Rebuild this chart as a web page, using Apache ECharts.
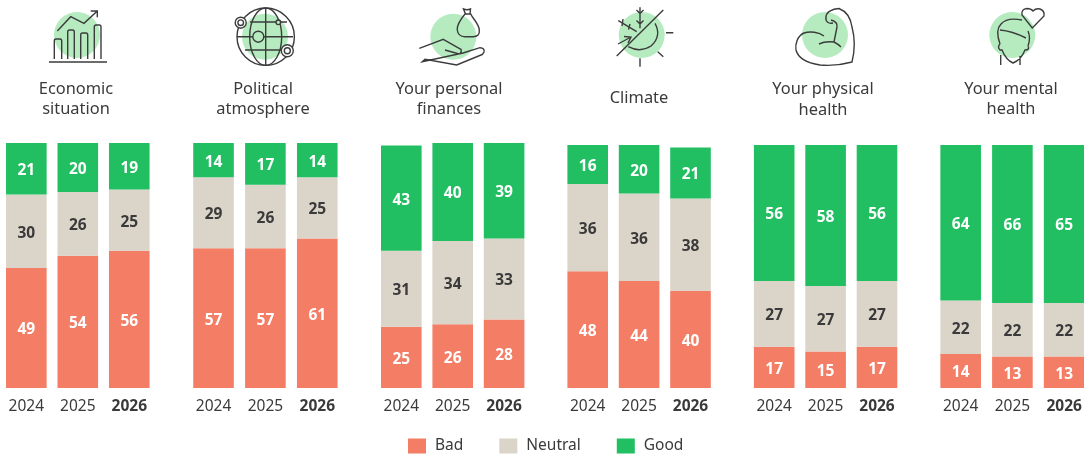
<!DOCTYPE html>
<html>
<head>
<meta charset="utf-8">
<style>html,body{margin:0;padding:0;background:#fff}#chart{width:1084px;height:457px}</style>
<script src="https://cdn.jsdelivr.net/npm/echarts@6/dist/echarts.min.js"></script>
</head>
<body>
<div id="chart"></div>
<script>
const years = ['2024', '2025', '2026'];
const panelTitles = ['Economic\nsituation', 'Political\natmosphere', 'Your personal\nfinances', 'Climate', 'Your physical\nhealth', 'Your mental\nhealth'];
const bad = [[49, 54, 56], [57, 57, 61], [25, 26, 28], [48, 44, 40], [17, 15, 17], [14, 13, 13]];
const neutral = [[30, 26, 25], [29, 26, 25], [31, 34, 33], [36, 36, 38], [27, 27, 27], [22, 22, 22]];
const good = [[21, 20, 19], [14, 17, 14], [43, 40, 39], [16, 20, 21], [56, 58, 56], [64, 66, 65]];

const COLORS = { bad: '#F37D65', neutral: '#DBD4C8', good: '#21BF61', mint: '#B5EBBF', ink: '#3A3A3A' };
const FONT = '"Noto Sans", "Open Sans", sans-serif';

// Panel placement: left edge, width and the pixel height of a full 100% stack
const panelLefts = [0.6, 187.6, 375.6, 562, 748.5, 934.8];
const panelWidths = [154.4, 155.6, 154.2, 154.2, 154.2, 155.2];
const panelTops = [143, 143, 143, 145, 145, 145];
const panelHeights = [245, 245, 245, 243, 243, 243];
const titleCenters = [76, 263, 449, 639, 823, 1011];
const titleTops = [99.5, 99.5, 99.5, 98, 100, 99.5];

const grids = [], xAxes = [], yAxes = [], series = [];
panelLefts.forEach((left, p) => {
  grids.push({ left, width: panelWidths[p], top: panelTops[p], height: panelHeights[p], outerBoundsMode: 'none' });
  xAxes.push({
    gridIndex: p, type: 'category', data: years,
    axisLine: { show: false }, axisTick: { show: false },
    axisLabel: {
      interval: 0, hideOverlap: false,
      margin: 11, color: COLORS.ink, fontFamily: FONT, fontSize: 15.5,
      formatter: v => v === '2026' ? '{b|' + v + '}' : v,
      rich: { b: { fontWeight: 700, color: COLORS.ink, fontFamily: FONT, fontSize: 15.5 } }
    }
  });
  yAxes.push({ gridIndex: p, type: 'value', min: 0, max: 100, show: false });
  [['Bad', bad, COLORS.bad, '#fff'], ['Neutral', neutral, COLORS.neutral, COLORS.ink], ['Good', good, COLORS.good, '#fff']]
    .forEach(([name, values, color, labelColor]) => {
      series.push({
        name, type: 'bar', stack: 'p' + p, xAxisIndex: p, yAxisIndex: p,
        data: values[p], barWidth: 40.6,
        itemStyle: { color },
        label: { show: true, position: 'inside', offset: [0, 2], color: labelColor, fontFamily: FONT, fontWeight: 700, fontSize: 15.5 }
      });
    });
});

// Line-art pictograms above each panel, each sitting on a mint disc
const iconPaths = {
  chart: 'M54.3 59V41Q54.3 39 56 39H60Q61.7 39 61.7 41V59M67.7 59V32Q67.7 30 69.5 30H72.5Q74.3 30 74.3 32V59M80.7 59V35Q80.7 33 82.5 33H86Q87.7 33 87.7 35V59M94.3 59V27Q94.3 25 96 25H99.3Q101 25 101 27V59M49 62H107M57.3 31L70.7 16.7L84 23.3L97.3 11M90.7 11H97.3V17.3',
  globe: 'M265.7 8A16 28.7 0 0 0 265.7 65.4A16 28.7 0 0 0 265.7 8ZM265.7 8V65.4M250 22H287M237 36.7H293M245 50H283',
  money: 'M465 14C460 20 456.7 25 457.3 30Q458 36.7 465 36.7H473Q480 36.7 479.3 30C479 24 473 19 470.7 14ZM465.5 14L463.5 9Q467 10.5 470.5 9L470 14M419.3 48.3L443.3 39.3Q455 46 461 49.3Q462 53 459 54L445 50M463 53L480 47.7Q485 48 484 52Q483 54.5 481 55L456.7 65L425 59.3L422.3 61.7Z',
  climate: 'M616.7 56L663.3 10M655 23.3Q662 36 651 46Q640 53 628.3 46.7M666 32.7H673.3M657.7 51.7L663.3 56.7M640 58.3V66.7M640 7.3V28.3M636.5 10L640 13.5L643.5 10M636.5 20.5L640 24L643.5 20.5M618.3 20.7L636.7 31.7M623 19L622 26M630 24L628.5 29.5M618 44L631 37M624 36.5L631 37L628 43',
  muscle: 'M824 36C819 32 810 31 804 33C797 36 795 45 796 50C798 58 807 63 820 65C832 66 845 64 852 62C855 50 855 38 852 27C851 20 848 12 839 8.5C832 9 826 12 826 17C825 22 829 24 833 23M831 20Q838 22 837 27L834 42M819 44Q825 41 834 42Q838 44 841 47',
  mind: 'M1032.3 28L1022 15Q1021 9 1027 8.5Q1031 8.5 1033 11Q1036 8 1040 9Q1045 11 1044 16ZM1000 44Q995 30 1001 24Q1007 17 1022 20M1028 46Q1031 38 1028 31M1000 44Q997 47 1000 50L1002 50Q1006 60 1013 63Q1021 60 1025 50Q1030 50 1028 46M1000.7 55V65M1020 56V65M1000 30Q1012 31 1026 38'
};
Object.keys(iconPaths).forEach(key => {
  echarts.graphic.registerShape(key, echarts.graphic.extendPath(iconPaths[key], {}));
});

const stroke = { stroke: '#3c3c3c', fill: null, lineWidth: 1.4 };
const disc = (cx, cy, r) => ({ type: 'circle', shape: { cx, cy, r }, style: { fill: COLORS.mint } });
const icon = key => ({ type: key, style: stroke, silent: true });
const ring = (cx, cy, r, fill) => ({ type: 'circle', shape: { cx, cy, r }, style: { stroke: '#3c3c3c', lineWidth: 1.4, fill: fill || 'transparent' } });
const titleGraphics = panelTitles.map((t, i) => ({
  type: 'text', x: titleCenters[i], y: titleTops[i],
  style: { text: t, align: 'center', verticalAlign: 'middle', fill: COLORS.ink, font: '16.4px ' + FONT, lineHeight: 20.5 }
}));

const chart = echarts.init(document.getElementById('chart'), null, { renderer: 'canvas' });
chart.setOption({
  animation: false,
  grid: grids, xAxis: xAxes, yAxis: yAxes, series,
  legend: {
    data: ['Bad', 'Neutral', 'Good'], left: 403, top: 433, itemWidth: 18, itemHeight: 15, itemGap: 36,
    selectedMode: false, icon: 'rect',
    textStyle: { color: COLORS.ink, fontFamily: FONT, fontSize: 15.5, padding: [3, 0, 0, 4] }
  },
  graphic: titleGraphics.concat([
    disc(77, 35, 23), disc(265, 36.7, 23), disc(453.3, 36.7, 23), disc(641.7, 35, 23), disc(825, 35, 23), disc(1012.3, 35, 23),
    icon('chart'),
    ring(265.7, 36.7, 28.7), icon('globe'),
    ring(258.3, 36.7, 5.5, COLORS.mint), ring(278.3, 22.3, 2.3, COLORS.mint),
    ring(240.7, 22.7, 5.5, '#fff'), ring(240.7, 22.7, 2.8), ring(287.3, 50.7, 6, '#fff'), ring(287.3, 50.7, 3),
    icon('money'), icon('climate'), icon('muscle'), icon('mind')
  ])
});
</script>
</body>
</html>
